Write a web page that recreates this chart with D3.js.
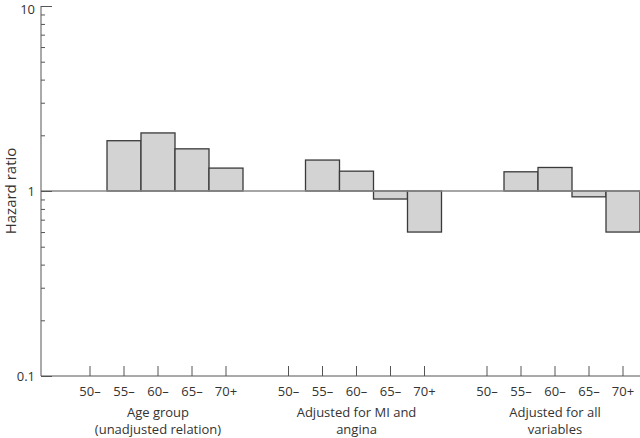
<!DOCTYPE html>
<html>
<head>
<meta charset="utf-8">
<script src="https://cdn.jsdelivr.net/npm/d3@7"></script>
<style>
  body { margin: 0; background: #fff; }
  text { font-family: "Open Sans", "DejaVu Sans", sans-serif; fill: #333; }
</style>
</head>
<body>
<div class="container"></div>
<script>
const groups = ['Age group|(unadjusted relation)', 'Adjusted for MI and|angina', 'Adjusted for all|variables']
const ages = ['50\u2013', '55\u2013', '60\u2013', '65\u2013', '70+']
const unadjusted = [1, 1.87, 2.06, 1.69, 1.33]
const adjustedMI = [1, 1.47, 1.28, 0.905, 0.60]
const adjustedAll = [1, 1.27, 1.34, 0.93, 0.60]
const yTicks = [0.1, 1, 10]

const series = [unadjusted, adjustedMI, adjustedAll]

const width = 640, height = 438
const margin = { left: 41, top: 6, bottom: 62 }

const svg = d3.select('.container').append('svg')
  .attr('width', width)
  .attr('height', height)

const y = d3.scaleLog().domain([0.1, 10]).range([height - margin.bottom, margin.top])
const xGroup = d3.scaleBand().domain(groups).range([73, 640]).paddingInner(28.5 / 198.5).paddingOuter(0)
const xAge = d3.scaleBand().domain(ages).range([0, xGroup.bandwidth()])

const axisColor = '#555'

// bars
const data = []
groups.forEach((g, gi) => {
  ages.forEach((a, ai) => data.push({ g, a, v: series[gi][ai] }))
})

svg.selectAll('.bar')
  .data(data.filter(d => d.v !== 1))
  .enter()
  .append('rect')
  .attr('class', 'bar')
  .attr('x', d => xGroup(d.g) + xAge(d.a))
  .attr('width', xAge.bandwidth())
  .attr('y', d => Math.min(y(d.v), y(1)))
  .attr('height', d => Math.abs(y(d.v) - y(1)))
  .style('fill', '#d3d3d3')
  .style('stroke', '#3a3a3a')
  .style('stroke-width', 1.3)

// reference line at 1
svg.append('line')
  .attr('x1', margin.left).attr('x2', width)
  .attr('y1', y(1)).attr('y2', y(1))
  .style('stroke', '#888').style('stroke-width', 1.3)

// y axis
const yAxis = d3.axisRight(y)
  .tickValues(d3.range(1, 10).map(d => d / 10).concat(d3.range(1, 10)).concat([10]))
  .tickSize(4)
  .tickFormat('')
const yg = svg.append('g')
  .attr('transform', `translate(${margin.left},0)`)
  .call(yAxis)
yg.select('.domain').remove()
yg.selectAll('.tick line')
  .attr('x2', d => yTicks.includes(d) ? 11 : 4)
  .style('stroke', axisColor)
yg.append('line')
  .attr('x1', 0).attr('x2', 0)
  .attr('y1', y(10)).attr('y2', y(0.1))
  .style('stroke', axisColor)

svg.selectAll('.ylab')
  .data(yTicks)
  .enter()
  .append('text')
  .attr('class', 'ylab')
  .attr('x', 35)
  .attr('y', d => Math.max(y(d) + 5, 14))
  .attr('text-anchor', 'end')
  .style('font-size', '13px')
  .text(d => d)

svg.append('text')
  .attr('transform', `translate(16,${y(1)}) rotate(-90)`)
  .attr('text-anchor', 'middle')
  .style('font-size', '15px')
  .text('Hazard ratio')

// x axis
svg.append('line')
  .attr('x1', margin.left).attr('x2', width)
  .attr('y1', y(0.1)).attr('y2', y(0.1))
  .style('stroke', axisColor)

groups.forEach(g => {
  const gx = svg.append('g').attr('transform', `translate(${xGroup(g)},${y(0.1)})`)
  const ax = d3.axisTop(xAge).tickSize(10).tickSizeOuter(0).tickFormat('')
  gx.call(ax)
  gx.select('.domain').remove()
  gx.selectAll('.tick line').style('stroke', axisColor)
  gx.selectAll('.agelab')
    .data(ages)
    .enter()
    .append('text')
    .attr('x', d => xAge(d) + xAge.bandwidth() / 2)
    .attr('y', 20)
    .attr('text-anchor', 'middle')
    .style('font-size', '13px')
    .text(d => d)
  const lines = g.split('|')
  gx.selectAll('.grplab')
    .data(lines)
    .enter()
    .append('text')
    .attr('x', xGroup.bandwidth() / 2)
    .attr('y', (d, i) => 41 + i * 17)
    .attr('text-anchor', 'middle')
    .style('font-size', '13px')
    .text(d => d)
})
</script>
</body>
</html>
